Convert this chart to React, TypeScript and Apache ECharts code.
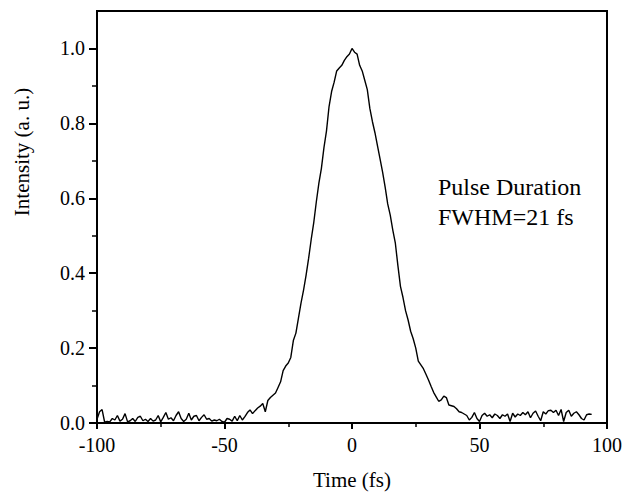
import React, { useEffect, useRef } from "react";
import * as echarts from "echarts";

const times = [
  -100, -99, -98, -97, -96, -95, -94, -93, -92, -91,
  -90, -89, -88, -87, -86, -85, -84, -83, -82, -81,
  -80, -79, -78, -77, -76, -75, -74, -73, -72, -71,
  -70, -69, -68, -67, -66, -65, -64, -63, -62, -61,
  -60, -59, -58, -57, -56, -55, -54, -53, -52, -51,
  -50, -49, -48, -47, -46, -45, -44, -43, -42, -41,
  -40, -39, -38, -37, -36, -35, -34, -33, -32, -31,
  -30, -29, -28, -27, -26, -25, -24, -23, -22, -21,
  -20, -19, -18, -17, -16, -15, -14, -13, -12, -11,
  -10, -9, -8, -7, -6, -5, -4, -3, -2, -1,
  0, 1, 2, 3, 4, 5, 6, 7, 8, 9,
  10, 11, 12, 13, 14, 15, 16, 17, 18, 19,
  20, 21, 22, 23, 24, 25, 26, 27, 28, 29,
  30, 31, 32, 33, 34, 35, 36, 37, 38, 39,
  40, 41, 42, 43, 44, 45, 46, 47, 48, 49,
  50, 51, 52, 53, 54, 55, 56, 57, 58, 59,
  60, 61, 62, 63, 64, 65, 66, 67, 68, 69,
  70, 71, 72, 73, 74, 75, 76, 77, 78, 79,
  80, 81, 82, 83, 84, 85, 86, 87, 88, 89,
  90, 91, 92, 93, 94,
];

const intensities = [
  0.010, 0.030, 0.036, 0.002, 0.004, 0.003, 0.012, 0.008, 0.020, 0.005,
  0.010, 0.025, 0.003, 0.006, 0.012, 0.004, 0.015, 0.018, 0.006, 0.010,
  0.004, 0.012, 0.005, 0.008, 0.020, 0.003, 0.015, 0.028, 0.010, 0.014,
  0.006, 0.020, 0.030, 0.012, 0.004, 0.010, 0.026, 0.008, 0.018, 0.020,
  0.006, 0.015, 0.022, 0.010, 0.012, 0.005, 0.008, 0.006, 0.010, 0.004,
  0.002, 0.012, 0.010, 0.005, 0.018, 0.006, 0.020, 0.008, 0.017, 0.028,
  0.035, 0.025, 0.033, 0.040, 0.045, 0.052, 0.030, 0.060, 0.068, 0.074,
  0.080, 0.095, 0.110, 0.140, 0.152, 0.160, 0.175, 0.220, 0.240, 0.280,
  0.320, 0.355, 0.395, 0.440, 0.490, 0.535, 0.590, 0.640, 0.680, 0.735,
  0.780, 0.845, 0.885, 0.910, 0.940, 0.948, 0.955, 0.968, 0.978, 0.985,
  1.000, 0.990, 0.985, 0.955, 0.940, 0.915, 0.890, 0.840, 0.805, 0.775,
  0.740, 0.705, 0.670, 0.630, 0.585, 0.555, 0.515, 0.480, 0.420, 0.365,
  0.335, 0.300, 0.275, 0.245, 0.225, 0.200, 0.165, 0.155, 0.145, 0.130,
  0.115, 0.098, 0.082, 0.070, 0.058, 0.062, 0.072, 0.068, 0.048, 0.046,
  0.044, 0.038, 0.030, 0.028, 0.024, 0.020, 0.008, 0.015, 0.028, 0.012,
  0.004, 0.020, 0.026, 0.018, 0.022, 0.014, 0.024, 0.020, 0.012, 0.022,
  0.018, 0.024, 0.004, 0.026, 0.016, 0.024, 0.020, 0.028, 0.022, 0.030,
  0.014, 0.026, 0.032, 0.018, 0.006, 0.030, 0.024, 0.033, 0.034, 0.028,
  0.034, 0.020, 0.036, 0.004, 0.028, 0.034, 0.018, 0.026, 0.030, 0.022,
  0.012, 0.008, 0.022, 0.024, 0.023,
];

const xMajorTicks = [-100, -50, 0, 50, 100];
const xMinorTicks = [-75, -25, 25, 75];
const yMajorTicks = [0, 0.2, 0.4, 0.6, 0.8, 1.0];
const yMinorTicks = [0.1, 0.3, 0.5, 0.7, 0.9];

const xTitle = "Time (fs)";
const yTitle = "Intensity (a. u.)";
const noteLines = ["Pulse Duration", "FWHM=21 fs"];

const FONT = '"Liberation Serif", "Times New Roman", serif';

export default function App() {
  const ref = useRef<HTMLDivElement>(null);

  useEffect(() => {
    if (!ref.current) return;
    const chart = echarts.init(ref.current, undefined, { renderer: "svg" });
    const data = times.map((t, i) => [t, intensities[i]]);

    const baseX = {
      type: "value",
      min: -100,
      max: 100,
      interval: 50,
      position: "bottom",
      splitLine: { show: false },
    };
    const baseY = {
      type: "value",
      min: 0,
      max: 1.1,
      interval: 0.2,
      position: "left",
      splitLine: { show: false },
    };

    chart.setOption({
      animation: false,
      backgroundColor: "#fff",
      grid: {
        left: 97,
        right: 19,
        top: 11,
        bottom: 73,
        show: true,
        borderColor: "#000",
        borderWidth: 2,
        backgroundColor: "transparent",
      },
      xAxis: [
        {
          ...baseX,
          axisLine: { show: true, onZero: false, lineStyle: { color: "#000", width: 2 } },
          axisTick: {
            show: true,
            inside: false,
            length: 6,
            lineStyle: { color: "#000", width: 2 },
            customValues: xMajorTicks,
          },
          axisLabel: {
            show: true,
            margin: 12,
            color: "#000",
            fontFamily: FONT,
            fontSize: 20,
            customValues: xMajorTicks,
            formatter: (v: number) => String(v),
          },
        },
        {
          ...baseX,
          axisLine: { show: false, onZero: false },
          axisTick: {
            show: true,
            inside: false,
            length: 4,
            lineStyle: { color: "#000", width: 1.5 },
            customValues: xMinorTicks,
          },
          axisLabel: { show: false },
        },
      ],
      yAxis: [
        {
          ...baseY,
          axisLine: { show: true, onZero: false, lineStyle: { color: "#000", width: 2 } },
          axisTick: {
            show: true,
            inside: false,
            length: 8,
            lineStyle: { color: "#000", width: 2 },
            customValues: yMajorTicks,
          },
          axisLabel: {
            show: true,
            margin: 12,
            color: "#000",
            fontFamily: FONT,
            fontSize: 20,
            customValues: yMajorTicks,
            formatter: (v: number) => v.toFixed(1),
          },
        },
        {
          ...baseY,
          axisLine: { show: false, onZero: false },
          axisTick: {
            show: true,
            inside: false,
            length: 5,
            lineStyle: { color: "#000", width: 1.5 },
            customValues: yMinorTicks,
          },
          axisLabel: { show: false },
        },
      ],
      series: [
        {
          type: "line",
          data,
          xAxisIndex: 0,
          yAxisIndex: 0,
          showSymbol: false,
          symbol: "none",
          lineStyle: { color: "#000", width: 1.4 },
          z: 3,
        },
      ],
      graphic: [
        {
          type: "text",
          x: 22,
          y: 152,
          rotation: Math.PI / 2,
          style: {
            text: yTitle,
            fontFamily: FONT,
            fontSize: 21,
            fill: "#000",
            align: "center",
            verticalAlign: "middle",
          },
        },
        {
          type: "text",
          x: 352,
          y: 480,
          style: {
            text: xTitle,
            fontFamily: FONT,
            fontSize: 21,
            fill: "#000",
            align: "center",
            verticalAlign: "middle",
          },
        },
        {
          type: "text",
          x: 438,
          y: 175,
          style: {
            text: noteLines[0],
            fontFamily: FONT,
            fontSize: 24,
            fill: "#000",
            align: "left",
            verticalAlign: "top",
          },
        },
        {
          type: "text",
          x: 438,
          y: 205,
          style: {
            text: noteLines[1],
            fontFamily: FONT,
            fontSize: 24,
            fill: "#000",
            align: "left",
            verticalAlign: "top",
          },
        },
      ],
    });

    return () => chart.dispose();
  }, []);

  return <div ref={ref} style={{ width: 626, height: 496, position: "absolute", left: 0, top: 0 }} />;
}
